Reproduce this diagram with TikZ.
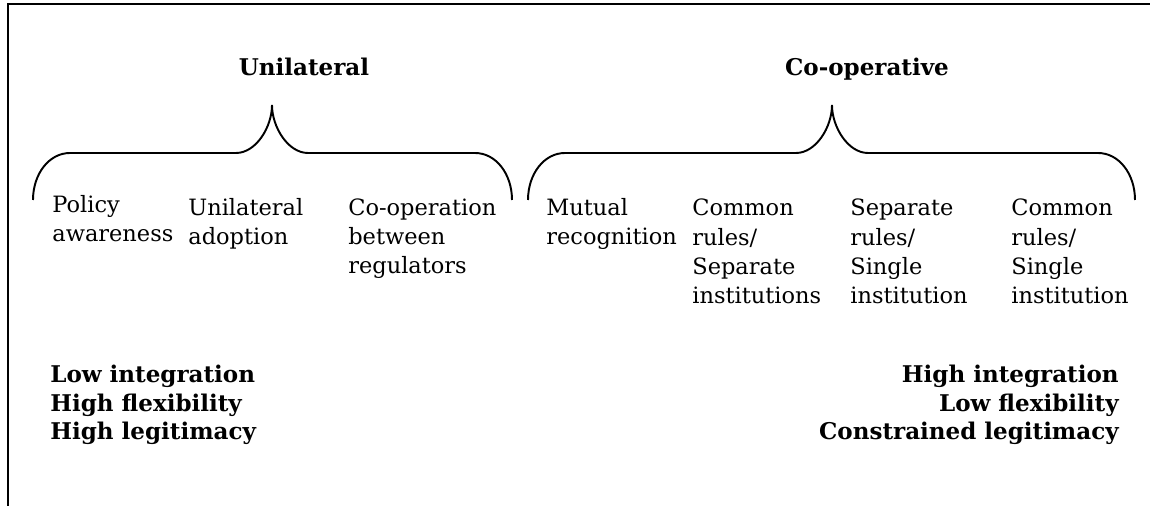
\documentclass[tikz,border=0pt]{standalone}
\usepackage{fontspec}
\setmainfont{DejaVu Serif}

\begin{document}
\begin{tikzpicture}[x=0.02cm,y=-0.02cm,
    item/.style={align=left,anchor=base west,inner sep=0pt,
        font=\fontsize{12.8}{16.7}\selectfont},
    head/.style={anchor=base,inner sep=0pt,
        font=\fontsize{13.1}{14}\selectfont\bfseries},
    summary/.style={inner sep=0pt,font=\fontsize{13.1}{16.5}\selectfont\bfseries},
    brace/.style={line width=1.1pt}]
\useasboundingbox (0,0) rectangle (1150,506);

% Frame (top and left edges only)
\draw[line width=1.2pt] (1150,4) -- (8,4) -- (8,506);

% Group headings
\node[head] (uni) at (304,76) {Unilateral};
\node[head] (coop) at (867,76) {Co-operative};

% Braces: left end / tip / right end
\foreach \l/\t/\r in {33/272/512, 528/832/1135} {
    \draw[brace] (\l,200) .. controls (\l,174) and (\l+16,153) .. (\l+37,153)
        -- (\t-36,153) .. controls (\t-16,153) and (\t,127) .. (\t,105)
        .. controls (\t,127) and (\t+16,153) .. (\t+36,153)
        -- (\r-37,153) .. controls (\r-16,153) and (\r,174) .. (\r,200);
}

% Options (base anchor sits on the last line)
\node[item] (policy) at (52,242) {Policy\\awareness};
\node[item] (adopt) at (188,245) {Unilateral\\adoption};
\node[item] (regul) at (348,274) {Co-operation\\between\\regulators};

\node[item] (mutual) at (546,245) {Mutual\\recognition};
\node[item] (crsep) at (692,304) {Common\\rules/\\Separate\\institutions};
\node[item] (srsin) at (850,304) {Separate\\rules/\\Single\\institution};
\node[item] (crsin) at (1011,304) {Common\\rules/\\Single\\institution};

% Trade-offs at both ends
\node[summary,align=left,anchor=base west] (low) at (50,440)
    {Low integration\\High flexibility\\High legitimacy};
\node[summary,align=right,anchor=base east] (high) at (1119,440)
    {High integration\\Low flexibility\\Constrained legitimacy};

\end{tikzpicture}
\end{document}
